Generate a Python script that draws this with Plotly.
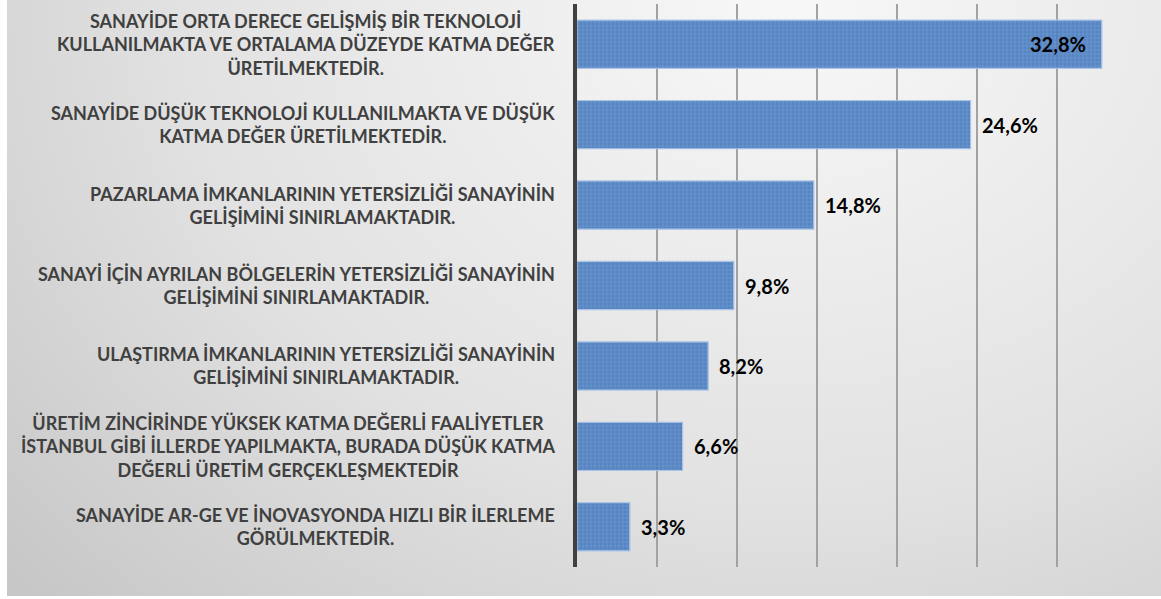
import base64
import plotly.graph_objects as go

# Survey statements, shown from the top of the chart down
statements = [
    "SANAYİDE ORTA DERECE GELİŞMİŞ BİR TEKNOLOJİ<br>KULLANILMAKTA VE ORTALAMA DÜZEYDE KATMA DEĞER<br>ÜRETİLMEKTEDİR.",
    "SANAYİDE DÜŞÜK TEKNOLOJİ KULLANILMAKTA VE DÜŞÜK<br>KATMA DEĞER ÜRETİLMEKTEDİR.",
    "PAZARLAMA İMKANLARININ YETERSİZLİĞİ SANAYİNİN<br>GELİŞİMİNİ SINIRLAMAKTADIR.",
    "SANAYİ İÇİN AYRILAN BÖLGELERİN YETERSİZLİĞİ SANAYİNİN<br>GELİŞİMİNİ SINIRLAMAKTADIR.",
    "ULAŞTIRMA İMKANLARININ YETERSİZLİĞİ SANAYİNİN<br>GELİŞİMİNİ SINIRLAMAKTADIR.",
    "ÜRETİM ZİNCİRİNDE YÜKSEK KATMA DEĞERLİ FAALİYETLER<br>İSTANBUL GİBİ İLLERDE YAPILMAKTA, BURADA DÜŞÜK KATMA<br>DEĞERLİ ÜRETİM GERÇEKLEŞMEKTEDİR",
    "SANAYİDE AR-GE VE İNOVASYONDA HIZLI BİR İLERLEME<br>GÖRÜLMEKTEDİR.",
]
# Share of respondents (%)
shares = [32.8, 24.6, 14.8, 9.8, 8.2, 6.6, 3.3]

W, H = 1161, 599
ML, MR, MT, MB = 577, 24, 4, 32
plot_w = W - ML - MR
plot_h = H - MT - MB

idx = list(range(len(statements)))

fig = go.Figure()
fig.add_trace(go.Bar(
    x=shares,
    y=idx,
    orientation="h",
    width=0.6,
    marker=dict(
        color="#5284c4",
        line=dict(color="#a9c3e6", width=1.2),
        pattern=dict(shape="+", fgcolor="#8fb0dc", bgcolor="#4f80c1",
                     size=4, solidity=0.25),
        opacity=0.95,
    ),
    hoverinfo="skip",
))

annotations = []
for i, (txt, v) in enumerate(zip(statements, shares)):
    annotations.append(dict(
        x=0, xref="paper", y=i, yref="y", text=txt,
        xanchor="right", yanchor="middle", align="center", xshift=-20,
        showarrow=False,
        font=dict(family="Lato", size=18, color="#404040", weight="bold"),
    ))
    label = f"{v:.1f}".replace(".", ",") + "%"
    inside = i == 0
    annotations.append(dict(
        x=v, xref="x", y=i, yref="y", text=label,
        xanchor="right" if inside else "left", yanchor="middle",
        xshift=-14 if inside else 9,
        showarrow=False,
        font=dict(family="Lato", size=20, color="#000000", weight="bold"),
    ))

# Soft radial grey background for the whole chart box
svg = (
    '<svg xmlns="http://www.w3.org/2000/svg" width="1154" height="596" '
    'preserveAspectRatio="none">'
    '<defs><radialGradient id="g" cx="0.68" cy="0.0" r="0.95" '
    'gradientUnits="objectBoundingBox" gradientTransform="translate(0.68,0) scale(1,1.6) translate(-0.68,0)">'
    '<stop offset="0" stop-color="#f8f8f8"/>'
    '<stop offset="0.55" stop-color="#e2e2e2"/>'
    '<stop offset="1" stop-color="#c4c4c4"/>'
    '</radialGradient></defs>'
    '<rect width="1154" height="596" fill="url(#g)"/></svg>'
)
src = "data:image/svg+xml;base64," + base64.b64encode(svg.encode()).decode()

box_x0 = 7
box_y1 = 596
plot_bottom_px = H - MB
images = [dict(
    source=src, xref="paper", yref="paper",
    x=(box_x0 - ML) / plot_w, y=plot_bottom_px / plot_h,
    sizex=(W - box_x0) / plot_w, sizey=box_y1 / plot_h,
    xanchor="left", yanchor="top", sizing="stretch", layer="below",
)]

fig.update_layout(
    width=W, height=H,
    margin=dict(l=ML, r=MR, t=MT, b=MB, pad=0),
    paper_bgcolor="#ffffff",
    plot_bgcolor="rgba(0,0,0,0)",
    showlegend=False,
    annotations=annotations,
    images=images,
    xaxis=dict(
        range=[0, 35], dtick=5, showgrid=True, gridcolor="#a2a2a2",
        gridwidth=1.5, zeroline=False, showticklabels=False, showline=False,
        fixedrange=True,
    ),
    yaxis=dict(
        range=[len(idx) - 0.5, -0.5], showgrid=False, zeroline=False,
        showticklabels=False, showline=True, linecolor="#404040",
        linewidth=4, fixedrange=True,
    ),
)

fig.write_html("out.html")
